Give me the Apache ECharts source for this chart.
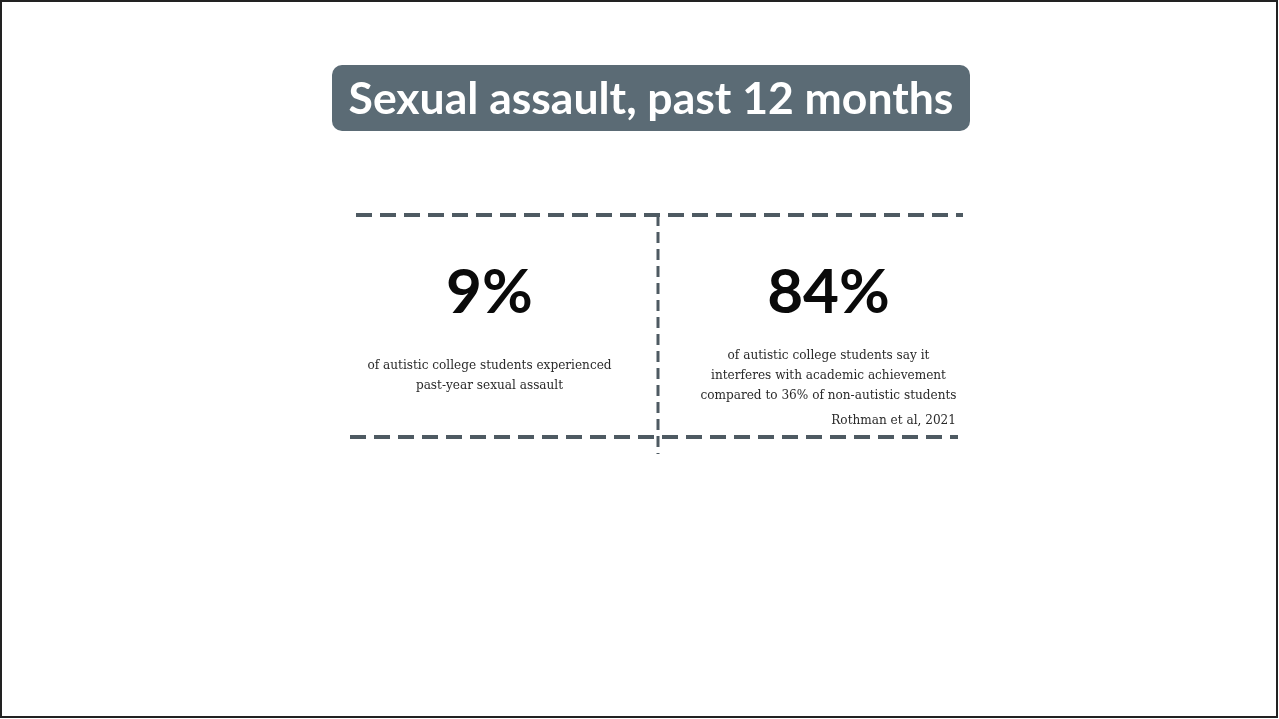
<!DOCTYPE html>
<html><head><meta charset="utf-8">
<script src="https://cdn.jsdelivr.net/npm/echarts@6/dist/echarts.min.js"></script>
<style>html,body{margin:0;padding:0;background:#fff}#c{width:1279px;height:719px}</style>
</head><body><div id="c"></div>
<script>
const titleText = 'Sexual assault, past 12 months';
const categories = ['Past-year sexual assault', 'Interferes with academics'];
const values = [9, 84];
const descriptions = [
  'of autistic college students experienced\npast-year sexual assault',
  'of autistic college students say it\ninterferes with academic achievement\ncompared to 36% of non-autistic students'
];
const citation = 'Rothman et al, 2021';
const rows = ['number', 'desc'];

const chart = echarts.init(document.getElementById('c'));
const dashColor = '#4e5a62';
chart.setOption({
  backgroundColor: '#ffffff',
  animation: false,
  grid: { left: 320, width: 678, top: 251, height: 166 },
  xAxis: { type: 'category', data: categories, show: false },
  yAxis: { type: 'category', data: rows, inverse: true, show: false },
  series: [
    {
      type: 'scatter', symbolSize: 0, itemStyle: { opacity: 1 },
      data: categories.map((c, i) => ({ value: [c, 'number'], v: values[i] })),
      label: { show: true, position: 'inside', formatter: p => p.data.v + '%',
        fontFamily: 'Lato', fontSize: 62, color: '#0a0a0a', fontWeight: 'bold' }
    },
    {
      type: 'scatter', symbolSize: 0, itemStyle: { opacity: 1 },
      data: categories.map((c, i) => ({ value: [c, 'desc'], d: descriptions[i] })),
      label: { show: true, position: 'inside', formatter: p => p.data.d,
        fontFamily: 'DejaVu Serif', fontSize: 12.1, lineHeight: 20, color: '#2a2a2a', align: 'center' }
    }
  ],
  graphic: [
    { type: 'rect', shape: { x: 1, y: 1, width: 1276, height: 716 }, style: { fill: 'none', stroke: '#222', lineWidth: 2 } },
    { type: 'rect', shape: { x: 332, y: 65, width: 638, height: 66, r: 10 }, style: { fill: '#5b6b75' } },
    { type: 'text', x: 651, y: 100, style: { text: titleText, fill: '#fff', font: 'bold 44.5px Lato', align: 'center', verticalAlign: 'middle' } },
    { type: 'line', shape: { x1: 356, y1: 215, x2: 963, y2: 215 }, style: { stroke: dashColor, lineWidth: 4, lineDash: [16, 8] } },
    { type: 'line', shape: { x1: 350, y1: 437, x2: 958, y2: 437 }, style: { stroke: dashColor, lineWidth: 4, lineDash: [16, 8] } },
    { type: 'line', shape: { x1: 658, y1: 215, x2: 658, y2: 454 }, style: { stroke: dashColor, lineWidth: 3, lineDash: [11, 6] } },
    { type: 'text', x: 956, y: 421, style: { text: citation, fill: '#2a2a2a', font: '12.1px "DejaVu Serif"', align: 'right', verticalAlign: 'middle' } }
  ]
});
</script></body></html>
